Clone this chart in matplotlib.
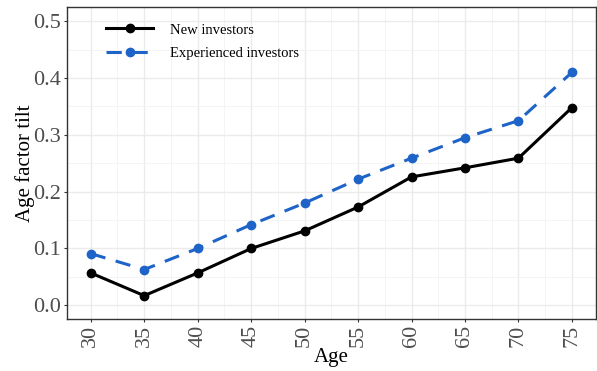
import matplotlib.pyplot as plt
from matplotlib.ticker import MultipleLocator

ages = [30, 35, 40, 45, 50, 55, 60, 65, 70, 75]
new_investors = [0.057, 0.017, 0.057, 0.100, 0.131, 0.173, 0.226, 0.242, 0.259, 0.348]
experienced_investors = [0.091, 0.063, 0.100, 0.142, 0.180, 0.222, 0.259, 0.295, 0.325, 0.410]

plt.rcParams['font.family'] = ['Liberation Serif', 'DejaVu Serif']

fig = plt.figure(figsize=(5.97, 3.71), dpi=100)
ax = fig.add_axes([0.1117, 0.1394, 0.8866, 0.8416])

ax.plot(ages, new_investors, color='black', linewidth=2.2, marker='o',
        markersize=6, label='New investors', zorder=3)
ax.plot(ages, experienced_investors, color='#1E64C8', linewidth=2.2,
        linestyle=(0, (5, 3.5)), marker='o', markersize=6,
        label='Experienced investors', zorder=3)

ax.set_xlim(27.75, 77.25)
ax.set_ylim(-0.0246, 0.525)
ax.xaxis.set_major_locator(MultipleLocator(5))
ax.xaxis.set_minor_locator(MultipleLocator(2.5))
ax.yaxis.set_major_locator(MultipleLocator(0.1))
ax.yaxis.set_minor_locator(MultipleLocator(0.05))
ax.yaxis.set_major_formatter(plt.FuncFormatter(lambda v, p: f'{v:.1f}'))

# ggplot-style panel grid
ax.grid(which='major', color='#EBEBEB', linewidth=1.0)
ax.grid(which='minor', color='#F2F2F2', linewidth=0.6)
ax.set_axisbelow(True)

for side in ax.spines.values():
    side.set_color('#333333')
    side.set_linewidth(1.0)

ax.tick_params(axis='both', which='major', colors='#333333', length=2.5,
               width=0.8, labelcolor='#4D4D4D', labelsize=16, pad=1.5)
ax.tick_params(axis='x', labelrotation=90)
ax.tick_params(which='minor', length=0)

ax.set_xlabel('Age', fontsize=15, labelpad=1)
ax.set_ylabel('Age factor tilt', fontsize=15, labelpad=-1.5)

ax.legend(loc='upper left', bbox_to_anchor=(0.05, 0.99), frameon=False,
          fontsize=10.5, handlelength=3.2, handletextpad=1.2, labelspacing=0.7)

fig.savefig('out.png', dpi=100)
